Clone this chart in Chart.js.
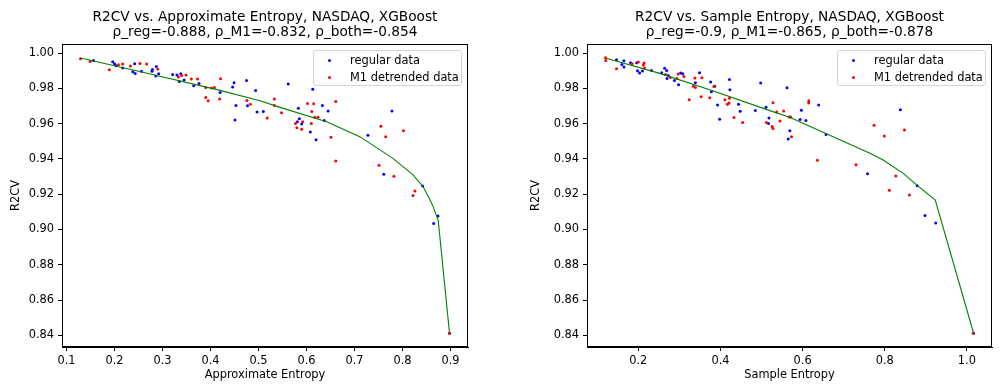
<!DOCTYPE html>
<html>
<head>
<meta charset="utf-8">
<script src="https://cdn.jsdelivr.net/npm/chart.js@4.4.1/dist/chart.umd.min.js"></script>
<style>
  body { margin: 0; background: #fff; width: 1003px; height: 385px; overflow: hidden; position: relative; }
  .panel { position: absolute; top: 0; height: 385px; }
  #leftPanel { left: 0; width: 500px; }
  #rightPanel { left: 520px; width: 483px; }
  .legend {
    position: absolute; box-sizing: border-box; width: 149px; height: 36px;
    border: 1px solid #d4d4d4; border-radius: 3px; background: rgba(255,255,255,0.8);
    font: 11.4px "DejaVu Sans"; color: #000;
  }
  .legend .row { position: absolute; left: 0; height: 14px; line-height: 14px; white-space: nowrap; }
  .legend .dot { position: absolute; left: 14px; top: 6px; width: 3px; height: 3px; border-radius: 50%; }
  .legend .txt { position: absolute; left: 36px; top: 0; }
</style>
</head>
<body>
<div class="panel" id="leftPanel"><canvas id="apenChart" width="500" height="385"></canvas></div>
<div class="panel" id="rightPanel"><canvas id="sampenChart" width="483" height="385"></canvas></div>
<script>
const FONT = '"DejaVu Sans", sans-serif';

// --- left panel: approximate entropy ---
const apenTitle = ["R2CV vs. Approximate Entropy, NASDAQ, XGBoost",
                   "ρ_reg=-0.888, ρ_M1=-0.832, ρ_both=-0.854"];
const apenTicks = [0.1, 0.2, 0.3, 0.4, 0.5, 0.6, 0.7, 0.8, 0.9];
const apenRegular = [
  [0.156,0.9958],[0.196,0.9950],[0.200,0.9939],[0.203,0.9928],[0.217,0.9915],[0.242,0.9939],
  [0.238,0.9894],[0.243,0.9884],[0.256,0.9896],[0.278,0.9896],[0.279,0.9907],[0.287,0.9924],
  [0.286,0.9869],[0.292,0.9882],[0.321,0.9878],[0.330,0.9875],[0.338,0.9882],[0.335,0.9839],
  [0.345,0.9847],[0.365,0.9814],[0.376,0.9827],[0.420,0.9776],[0.446,0.9807],[0.449,0.9831],
  [0.453,0.9702],[0.451,0.9621],[0.475,0.9844],[0.477,0.9701],[0.494,0.9788],[0.497,0.9666],
  [0.510,0.9668],[0.562,0.9824],[0.613,0.9795],[0.583,0.9687],[0.633,0.9702],[0.645,0.9672],
  [0.585,0.9627],[0.581,0.9611],[0.590,0.9597],[0.637,0.9617],[0.608,0.9553],[0.620,0.9509],
  [0.728,0.9534],[0.778,0.9672],[0.761,0.9313],[0.842,0.9246],[0.874,0.9077],[0.865,0.9034],
  [0.898,0.8412]
];
const apenM1 = [
  [0.129,0.9968],[0.149,0.9952],[0.189,0.9905],[0.208,0.9934],[0.217,0.9937],[0.233,0.9926],
  [0.253,0.9941],[0.267,0.9937],[0.290,0.9909],[0.333,0.9864],[0.340,0.9873],[0.349,0.9875],
  [0.360,0.9852],[0.373,0.9852],[0.390,0.9805],[0.402,0.9801],[0.408,0.9805],[0.390,0.9748],
  [0.395,0.9729],[0.421,0.9854],[0.419,0.9739],[0.476,0.9731],[0.483,0.9710],[0.518,0.9631],
  [0.533,0.9739],[0.533,0.9702],[0.548,0.9661],[0.602,0.9714],[0.615,0.9712],[0.661,0.9725],
  [0.611,0.9668],[0.617,0.9636],[0.624,0.9636],[0.592,0.9611],[0.577,0.9600],[0.580,0.9576],
  [0.590,0.9568],[0.610,0.9600],[0.651,0.9523],[0.661,0.9388],[0.755,0.9585],[0.765,0.9526],
  [0.802,0.9560],[0.751,0.9364],[0.782,0.9301],[0.826,0.9218],[0.822,0.9193],[0.898,0.8412]
];
const apenFit = [
  [0.129,0.9972],[0.25,0.9897],[0.416,0.9791],[0.503,0.9729],[0.545,0.9692],[0.642,0.9611],
  [0.711,0.9526],[0.780,0.9403],[0.822,0.9309],[0.843,0.9242],[0.857,0.9170],[0.864,0.9128],
  [0.8745,0.9050],[0.898,0.8412]
];

// --- right panel: sample entropy ---
const sampenTitle = ["R2CV vs. Sample Entropy, NASDAQ, XGBoost",
                     "ρ_reg=-0.9, ρ_M1=-0.865, ρ_both=-0.878"];
const sampenTicks = [0.2, 0.4, 0.6, 0.8, 1.0];
const sampenRegular = [
  [0.147,0.9962],[0.160,0.9935],[0.165,0.9956],[0.165,0.9920],[0.181,0.9945],[0.196,0.9945],
  [0.198,0.9899],[0.203,0.9886],[0.210,0.9898],[0.232,0.9901],[0.257,0.9888],[0.264,0.9913],
  [0.269,0.9901],[0.270,0.9856],[0.273,0.9873],[0.288,0.9844],[0.303,0.9886],[0.308,0.9882],
  [0.298,0.9820],[0.339,0.9831],[0.349,0.9888],[0.376,0.9835],[0.378,0.9780],[0.386,0.9812],
  [0.393,0.9706],[0.398,0.9625],[0.422,0.9850],[0.423,0.9792],[0.444,0.9710],[0.448,0.9670],
  [0.485,0.9674],[0.498,0.9830],[0.511,0.9693],[0.518,0.9632],[0.517,0.9600],[0.562,0.9803],
  [0.565,0.9513],[0.569,0.9560],[0.597,0.9676],[0.608,0.9617],[0.594,0.9623],[0.639,0.9706],
  [0.657,0.9538],[0.838,0.9678],[0.758,0.9316],[0.879,0.9248],[0.898,0.9079],[0.924,0.9036],
  [1.016,0.8412]
];
const sampenM1 = [
  [0.120,0.9973],[0.121,0.9958],[0.147,0.9911],[0.185,0.9939],[0.200,0.9949],[0.212,0.9932],
  [0.214,0.9943],[0.215,0.9915],[0.266,0.9878],[0.278,0.9861],[0.294,0.9856],[0.297,0.9881],
  [0.311,0.9867],[0.324,0.9735],[0.334,0.9812],[0.339,0.9805],[0.338,0.9858],[0.355,0.9860],
  [0.353,0.9752],[0.374,0.9746],[0.384,0.9810],[0.411,0.9735],[0.417,0.9710],[0.421,0.9716],
  [0.422,0.9744],[0.433,0.9634],[0.454,0.9606],[0.512,0.9606],[0.526,0.9583],[0.528,0.9572],
  [0.528,0.9718],[0.537,0.9666],[0.545,0.9615],[0.554,0.9672],[0.567,0.9638],[0.571,0.9638],
  [0.573,0.9526],[0.615,0.9729],[0.615,0.9716],[0.636,0.9392],[0.774,0.9591],[0.848,0.9564],
  [0.799,0.9530],[0.730,0.9367],[0.827,0.9303],[0.811,0.9222],[0.860,0.9195],[1.016,0.8412]
];
const sampenFit = [
  [0.1199,0.9972],[0.25,0.9886],[0.374,0.9792],[0.522,0.9672],[0.570,0.9634],[0.651,0.9549],
  [0.764,0.9432],[0.796,0.9394],[0.845,0.9318],[0.879,0.9250],[0.923,0.9166],[1.0163,0.8412]
];

const yTicks = [0.84, 0.86, 0.88, 0.90, 0.92, 0.94, 0.96, 0.98, 1.00];
const seriesLabels = ["regular data", "M1 detrended data"];

const toXY = (pairs) => pairs.map(([x, y]) => ({ x, y }));

// matplotlib-ish box around the axes and a two line title over the plot area
const framePlugin = {
  id: "frame",
  afterDraw(chart, args, opts) {
    const { ctx, chartArea: a } = chart;
    ctx.save();
    ctx.strokeStyle = "#000";
    ctx.lineWidth = 1;
    const l = Math.round(a.left) + 0.5, t = Math.round(a.top) + 0.5;
    const r = Math.round(a.right) - 0.5, b = Math.round(a.bottom) - 0.5;
    ctx.strokeRect(l, t, r - l, b - t);
    ctx.fillStyle = "#000";
    ctx.font = `13.7px ${FONT}`;
    ctx.textAlign = "center";
    ctx.textBaseline = "middle";
    const cx = (a.left + a.right) / 2;
    opts.lines.forEach((line, i) => ctx.fillText(line, cx, 17.5 + i * 15));
    ctx.restore();
  },
};

// legend box as html, placed in the top right corner of the plot area
const htmlLegend = {
  id: "htmlLegend",
  afterUpdate(chart) {
    const host = chart.canvas.parentNode;
    let box = host.querySelector(".legend");
    if (!box) {
      box = document.createElement("div");
      box.className = "legend";
      host.appendChild(box);
    }
    const a = chart.chartArea;
    box.style.left = (a.right - 6 - 149) + "px";
    box.style.top = (a.top + 6) + "px";
    box.innerHTML = chart.data.datasets
      .filter((d) => d.legendPos !== undefined)
      .sort((p, q) => p.legendPos - q.legendPos)
      .map((d, i) => `<div class="row" style="top:${2 + i * 16.7}px;width:147px">
          <span class="dot" style="background:${d.backgroundColor}"></span>
          <span class="txt">${d.label}</span></div>`)
      .join("");
  },
};

function makeChart(canvasId, title, regular, m1, fit, xTicks, xTitle, xMin, xMax, yAxisWidth, rightPad) {
  const tickFont = { family: FONT, size: 11.4 };
  return new Chart(document.getElementById(canvasId), {
    type: "scatter",
    data: {
      datasets: [
        { type: "line", label: "fit", data: toXY(fit), borderColor: "#008000", borderWidth: 1.1,
          pointRadius: 0, fill: false, tension: 0, order: 0 },
        { label: seriesLabels[1], data: toXY(m1), backgroundColor: "#ff0000", pointRadius: 1.5,
          borderWidth: 0, order: 1, legendPos: 1 },
        { label: seriesLabels[0], data: toXY(regular), backgroundColor: "#0000ff", pointRadius: 1.5,
          borderWidth: 0, order: 2, legendPos: 0 },
      ],
    },
    options: {
      responsive: false,
      animation: false,
      events: [],
      layout: { padding: { top: 44, right: rightPad, left: 0, bottom: 0 } },
      plugins: {
        legend: { display: false },
        tooltip: { enabled: false },
        frame: { lines: title },
      },
      scales: {
        x: {
          type: "linear", min: xMin, max: xMax,
          afterBuildTicks: (s) => { s.ticks = xTicks.map((v) => ({ value: v })); },
          afterFit: (s) => { s.height = 38; },
          ticks: { color: "#000", font: tickFont, padding: 3, maxRotation: 0,
                   callback: (v) => v.toFixed(1) },
          grid: { drawOnChartArea: false, drawTicks: true, tickLength: 4, color: "#000" },
          border: { display: true, color: "#000", width: 1 },
          title: { display: true, text: xTitle, color: "#000", font: tickFont,
                   padding: { top: 0, bottom: 3 } },
        },
        y: {
          type: "linear", min: 0.8334, max: 1.0051,
          afterBuildTicks: (s) => { s.ticks = yTicks.map((v) => ({ value: v })); },
          afterFit: (s) => { s.width = yAxisWidth; },
          ticks: { color: "#000", font: tickFont, padding: 4, callback: (v) => v.toFixed(2) },
          grid: { drawOnChartArea: false, drawTicks: true, tickLength: 4, color: "#000" },
          border: { display: true, color: "#000", width: 1 },
          title: { display: true, text: "R2CV", color: "#000", font: tickFont,
                   padding: { top: 9, bottom: 0 } },
        },
      },
    },
    plugins: [framePlugin, htmlLegend],
  });
}

makeChart("apenChart", apenTitle, apenRegular, apenM1, apenFit, apenTicks,
          "Approximate Entropy", 0.0905, 0.9365, 62, 32);
makeChart("sampenChart", sampenTitle, sampenRegular, sampenM1, sampenFit, sampenTicks,
          "Sample Entropy", 0.0751, 1.0611, 67, 11);
</script>
</body>
</html>
